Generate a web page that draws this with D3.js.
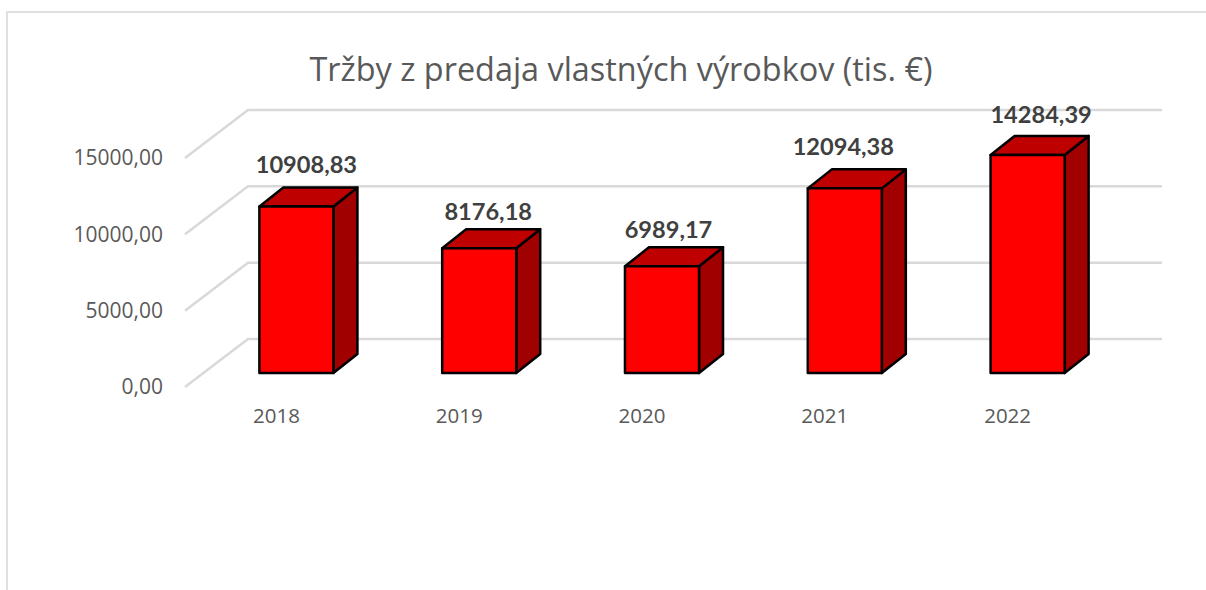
<!DOCTYPE html>
<html>
<head>
<meta charset="utf-8">
<script src="https://cdnjs.cloudflare.com/ajax/libs/d3/7.8.5/d3.min.js"></script>
<style>
  body { margin: 0; background: #fff; }
  svg { display: block; }
</style>
</head>
<body>
<div id="chart"></div>
<script>
const title = "Tržby z predaja vlastných výrobkov (tis. €)";
const years = ["2018", "2019", "2020", "2021", "2022"];
const sales = [10908.83, 8176.18, 6989.17, 12094.38, 14284.39];
const yTicks = [0, 5000, 10000, 15000];

const larg = 1206, alt = 590;
const fontName = "'Open Sans', sans-serif";
const skLocale = d3.formatLocale({decimal: ",", thousands: "", grouping: [3], currency: ["", " €"]});
const fmt = skLocale.format(".2f");

const svg = d3.select("#chart").append("svg")
    .attr("width", larg)
    .attr("height", alt);

// chart frame, only top and left show in the picture
svg.append("path")
    .attr("d", "M7,590V12H1206")
    .attr("fill", "none")
    .attr("stroke", "#e0e0e0")
    .attr("stroke-width", 2);

svg.append("text")
    .attr("x", 621)
    .attr("y", 81)
    .attr("text-anchor", "middle")
    .attr("fill", "#595959")
    .style("font", "32.4px " + fontName)
    .text(title);

// front edge of the floor, the walls are pushed back by depth
const x = d3.scaleBand().domain(years).range([185, 1099]).paddingInner(0.595).paddingOuter(0.2975);
const y = d3.scaleLinear().domain([0, 15000]).range([387, 158]);
const depth = {dx: 63, dy: -48};
const barOff = {dx: 20, dy: -14};
const barDepth = {dx: 24, dy: -19};

svg.append("g").selectAll("path")
    .data(yTicks)
    .enter()
    .append("path")
    .attr("d", d => {
        const p = d3.path();
        p.moveTo(x.range()[0], y(d));
        p.lineTo(x.range()[0] + depth.dx, y(d) + depth.dy);
        p.lineTo(x.range()[1] + depth.dx, y(d) + depth.dy);
        return p.toString();
    })
    .attr("fill", "none")
    .attr("stroke", "#d9d9d9")
    .attr("stroke-width", 2.5);

// y axis labels
const axisY = svg.append("g")
    .attr("transform", "translate(170,0)")
    .call(d3.axisLeft(y).tickValues(yTicks).tickFormat(fmt).tickSize(0).tickPadding(7));
axisY.select(".domain").remove();
axisY.selectAll("text")
    .attr("fill", "#595959")
    .style("font", "21px " + fontName);

// x axis labels
const axisX = svg.append("g")
    .attr("transform", "translate(0,408)")
    .call(d3.axisBottom(x).tickSize(0).tickPadding(0));
axisX.select(".domain").remove();
axisX.selectAll("text")
    .attr("fill", "#595959")
    .style("font", "20.5px " + fontName);

const rows = years.map((year, i) => ({year: year, value: sales[i]}));
const bars = svg.append("g").selectAll("g")
    .data(rows)
    .enter()
    .append("g")
    .attr("stroke", "#000")
    .attr("stroke-width", 2.5)
    .attr("stroke-linejoin", "round");

const left = d => x(d.year) + barOff.dx;
const right = d => left(d) + x.bandwidth();
const top_ = d => y(d.value) + barOff.dy;
const bottom = () => y(0) + barOff.dy;

// side
bars.append("path")
    .attr("fill", "#a00000")
    .attr("d", d => `M${right(d)},${top_(d)}l${barDepth.dx},${barDepth.dy}V${bottom() + barDepth.dy}L${right(d)},${bottom()}Z`);
// top
bars.append("path")
    .attr("fill", "#bf0000")
    .attr("d", d => `M${left(d)},${top_(d)}l${barDepth.dx},${barDepth.dy}H${right(d) + barDepth.dx}L${right(d)},${top_(d)}Z`);
// front
bars.append("rect")
    .attr("fill", "#ff0000")
    .attr("x", left)
    .attr("y", top_)
    .attr("width", x.bandwidth())
    .attr("height", d => bottom() - top_(d));

// the value labels were moved by hand in the original
const labelDx = [10, 9, 6.5, -1.5, 13.5];
const labelDy = [-33, -28, -28, -33, -32];

svg.append("g").selectAll("text")
    .data(rows)
    .enter()
    .append("text")
    .attr("x", (d, i) => left(d) + x.bandwidth() / 2 + labelDx[i])
    .attr("y", (d, i) => top_(d) + labelDy[i])
    .attr("text-anchor", "middle")
    .attr("fill", "#404040")
    .style("font", "bold 23.6px Lato, sans-serif")
    .text(d => fmt(d.value));
</script>
</body>
</html>
